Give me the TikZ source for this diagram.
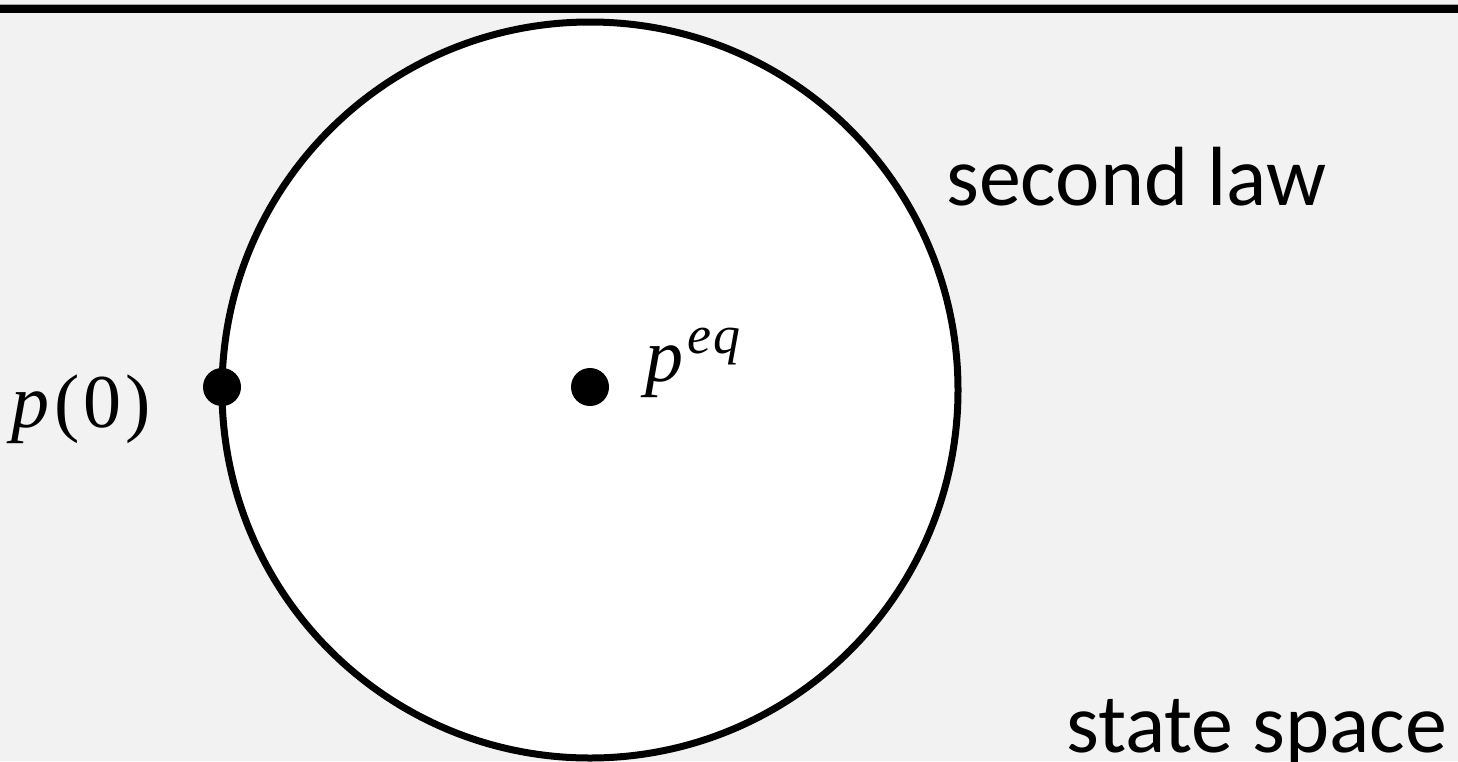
\documentclass[tikz,border=0pt]{standalone}
\usepackage{fontspec}
\setmainfont{Carlito}
\newfontfamily\mathf{Liberation Serif}
\definecolor{bg}{HTML}{F2F2F2}
\tikzset{
  dot/.style={circle,fill=black,inner sep=0pt,minimum size=38pt},
  mathlab/.style={inner sep=0pt,anchor=base west,font=\mathf\fontsize{76}{82}\selectfont},
  txtlab/.style={inner sep=0pt,anchor=base west,font=\fontsize{84}{100}\selectfont}
}
\begin{document}
\begin{tikzpicture}[x=1pt,y=-1pt]
\useasboundingbox (0,0) rectangle (1458,761);
\fill[bg] (0,0) rectangle (1458,761);
\draw[gray!70,line width=1pt] (0,4.5) -- (1458,4.5);
\fill[black] (0,5) rectangle (1458,12.5);
\node[circle,draw=black,fill=white,line width=7pt,minimum size=736pt,inner sep=0pt] (ss) at (590,390) {};
\node[dot] (p0) at (222,387) {};
\node[dot] (peq) at (590,387) {};
\node[mathlab] (lp0) at (11,427) {\textit{p}\kern5pt(\kern4pt0\kern4pt)};
\node[mathlab] (lpeq) at (645,381) {\textit{p}\kern4pt\raisebox{28pt}{\fontsize{54}{60}\selectfont\textit{e}\kern2pt\textit{q}}};
\node[txtlab] (sl) at (946,205) {second law};
\node[txtlab] (st) at (1066,752) {state space};
\end{tikzpicture}
\end{document}
